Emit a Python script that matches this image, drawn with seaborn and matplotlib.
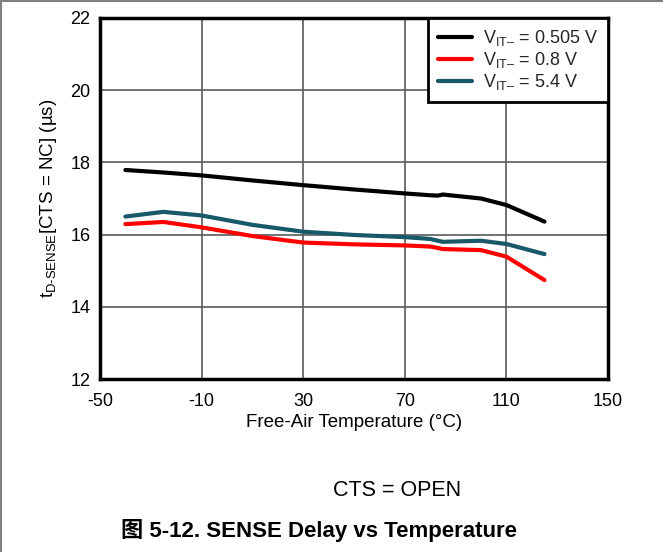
import numpy as np
import pandas as pd
import matplotlib
matplotlib.use('Agg')
import matplotlib.pyplot as plt
import seaborn as sns
from matplotlib.lines import Line2D

sns.set_theme(style='white')
plt.rcParams['font.family'] = ['Liberation Sans', 'Noto Sans CJK SC', 'DejaVu Sans']
plt.rcParams['mathtext.fontset'] = 'custom'
plt.rcParams['mathtext.rm'] = 'Liberation Sans'
plt.rcParams['axes.unicode_minus'] = False

# Data
temp = [-40, -25, -10, 10, 30, 50, 70, 80, 83, 85, 100, 110, 125]
delay_0505 = [17.79, 17.72, 17.64, 17.50, 17.37, 17.25, 17.14, 17.09, 17.08, 17.11, 17.00, 16.82, 16.36]
delay_08 = [16.29, 16.35, 16.20, 15.96, 15.78, 15.73, 15.70, 15.67, 15.63, 15.60, 15.57, 15.39, 14.74]
delay_54 = [16.50, 16.63, 16.53, 16.27, 16.08, 15.99, 15.93, 15.88, 15.83, 15.80, 15.83, 15.74, 15.46]

labels = [r'V$\mathregular{_{IT–}}$ = 0.505 V',
          r'V$\mathregular{_{IT–}}$ = 0.8 V',
          r'V$\mathregular{_{IT–}}$ = 5.4 V']
colors = ['#000000', '#ff0000', '#175869']

df = pd.concat([
    pd.DataFrame({'temp': temp, 'delay': d, 'series': lab})
    for d, lab in zip([delay_0505, delay_08, delay_54], labels)
])

fig = plt.figure(figsize=(6.63, 5.52), dpi=100)
ax = fig.add_axes([0.1508, 0.3134, 0.7662, 0.654])

sns.lineplot(data=df, x='temp', y='delay', hue='series', palette=colors,
             linewidth=3, ax=ax, sort=False, estimator=None)

ax.set_xlim(-50, 150)
ax.set_ylim(12, 22)
ax.set_xticks([-50, -10, 30, 70, 110, 150])
ax.set_yticks([12, 14, 16, 18, 20, 22])
ax.tick_params(axis='both', length=0, labelsize=13, colors='black')
ax.tick_params(axis='x', pad=10)
ax.tick_params(axis='y', pad=7)
ax.grid(True, color='#5a5a5a', linewidth=1.2)
for s in ax.spines.values():
    s.set_color('black')
    s.set_linewidth(2.5)

ax.set_xlabel('Free-Air Temperature (°C)', fontsize=13.5, color='black', labelpad=3)
ax.set_ylabel(r't$\mathregular{_{D\text{-}SENSE}}$[CTS = NC] (µs)', fontsize=13.5,
              color='black', labelpad=8)

leg = ax.legend(loc='upper right', borderaxespad=0, fontsize=13, frameon=True,
                fancybox=False, handlelength=1.9, labelspacing=0.12,
                borderpad=0.55, handletextpad=0.6, framealpha=1)
leg.get_frame().set_edgecolor('black')
leg.get_frame().set_linewidth(2)
leg.set_title(None)

fig.text(397 / 663, 1 - 490 / 552, 'CTS = OPEN', ha='center', va='center',
         fontsize=15.5, color='black')
fig.text(319 / 663, 1 - 530 / 552, '图 5-12. SENSE Delay vs Temperature',
         ha='center', va='center', fontsize=16, fontweight='bold', color='black',
         family=['Liberation Sans', 'Noto Sans CJK SC'])

# page frame lines
fig.add_artist(Line2D([0.002, 0.002], [0, 1], color='#808080', linewidth=1.5,
                      transform=fig.transFigure))
fig.add_artist(Line2D([0, 1], [0.998, 0.998], color='#808080', linewidth=1.5,
                      transform=fig.transFigure))

fig.savefig('out.png', dpi=100)
